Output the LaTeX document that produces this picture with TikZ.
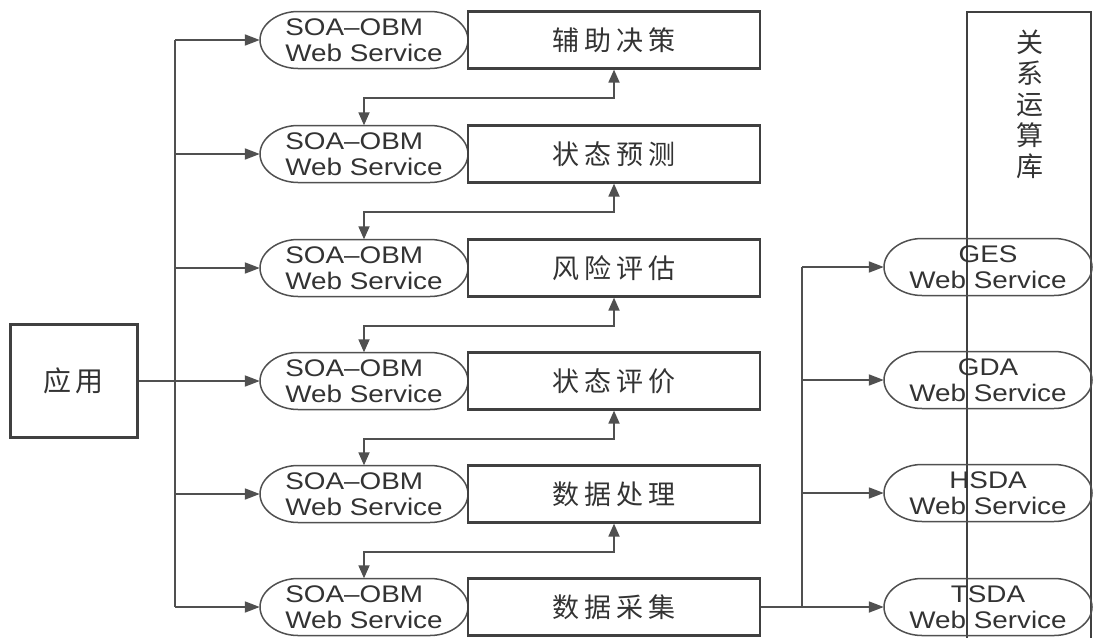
\documentclass[tikz,border=0pt]{standalone}
\usepackage{fontspec}
\setmainfont{Liberation Sans}
\newfontfamily\wsf[FakeStretch=1.16]{Liberation Sans}
\newfontfamily\cjk{Noto Sans CJK SC}
\usetikzlibrary{arrows.meta,calc}
\definecolor{linec}{HTML}{505050}
\definecolor{boxc}{HTML}{404040}
\definecolor{txtc}{HTML}{333333}
\newcommand\wsoutline[2]{%
  \draw[wsline, shift={(#1,#2)}] (-66,-28.5) -- (66,-28.5)
    .. controls (86.4,-28.5) and (104,-15.74) .. (104,0)
    .. controls (104,15.74) and (86.4,28.5) .. (66,28.5) -- (-66,28.5)
    .. controls (-86.4,28.5) and (-104,15.74) .. (-104,0)
    .. controls (-104,-15.74) and (-86.4,-28.5) .. (-66,-28.5) -- cycle;}
\begin{document}
\begin{tikzpicture}[x=1pt,y=-1pt,
  wsline/.style={draw=linec, line width=1.5pt},
  wstext/.style={rectangle, minimum width=208pt, minimum height=57pt, inner sep=0pt,
    text=txtc, font=\wsf\fontsize{24}{26}\selectfont},
  funcbox/.style={draw=boxc, line width=2.2pt, rectangle, minimum width=292pt,
    minimum height=57pt, inner sep=0pt, text=txtc, font=\cjk\fontsize{27}{30}\selectfont},
  conn/.style={draw=linec, line width=1.8pt},
  arr/.style={conn, -{Triangle[length=15pt,width=11pt]}},
  biarr/.style={conn, {Triangle[length=13pt,width=11pt]}-{Triangle[length=13pt,width=11pt]}}
]
\useasboundingbox (0,0) rectangle (1094,637);
\fill[white] (0,0) rectangle (1094,637);

% tall library box
\node[draw=boxc, line width=1.8pt, minimum width=124pt, minimum height=630pt, inner sep=0pt]
  (lib) at (1029,327) {};
\node[text=txtc, font=\cjk\fontsize{27}{31}\selectfont, align=center, inner sep=0pt]
  (libtxt) at (1030,104) {关\\系\\运\\算\\库};

% application box
\node[draw=boxc, line width=3pt, minimum width=127pt, minimum height=113pt, inner sep=0pt,
  text=txtc, font=\cjk\fontsize{28}{32}\selectfont] (app) at (73.5,381) {应\hspace{5pt}用};

% SOA-OBM web services and function boxes
\foreach \i/\y/\t in {1/40/辅\hspace{5pt}助\hspace{5pt}决\hspace{5pt}策,
                      2/154/状\hspace{5pt}态\hspace{5pt}预\hspace{5pt}测,
                      3/268/风\hspace{5pt}险\hspace{5pt}评\hspace{5pt}估,
                      4/381/状\hspace{5pt}态\hspace{5pt}评\hspace{5pt}价,
                      5/494/数\hspace{5pt}据\hspace{5pt}处\hspace{5pt}理,
                      6/607/数\hspace{5pt}据\hspace{5pt}采\hspace{5pt}集}{
  \wsoutline{364}{\y}
  \node[wstext, align=left] (s\i) at (364,\y) {SOA–OBM\\Web Service};
  \node[funcbox] (r\i) at (614,\y) {\t};
  \coordinate (lb\i) at (175,\y);
}

% right web services
\foreach \i/\y/\t in {1/267/GES, 2/380/GDA, 3/493/HSDA, 4/607/TSDA}{
  \wsoutline{988}{\y}
  \node[wstext, align=center] (g\i) at (988,\y) {\t\\Web Service};
  \coordinate (rb\i) at (802,\y);
}

% left bus
\draw[conn] (lb1) -- (lb6);
\foreach \i in {1,2,3,5,6}{ \draw[arr] (lb\i) -- (s\i.west); }
\draw[arr] (app.east) -- (s4.west);

% links between layers
\foreach \i/\j in {1/2,2/3,3/4,4/5,5/6}{
  \draw[biarr] (r\i.south) -- ++(0,28) -| (s\j.north);
}

% right bus
\draw[conn] (rb1) -- (rb4);
\draw[arr] (r6.east) -- (g4.west);
\foreach \i in {1,2,3}{ \draw[arr] (rb\i) -- (g\i.west); }
\end{tikzpicture}
\end{document}
